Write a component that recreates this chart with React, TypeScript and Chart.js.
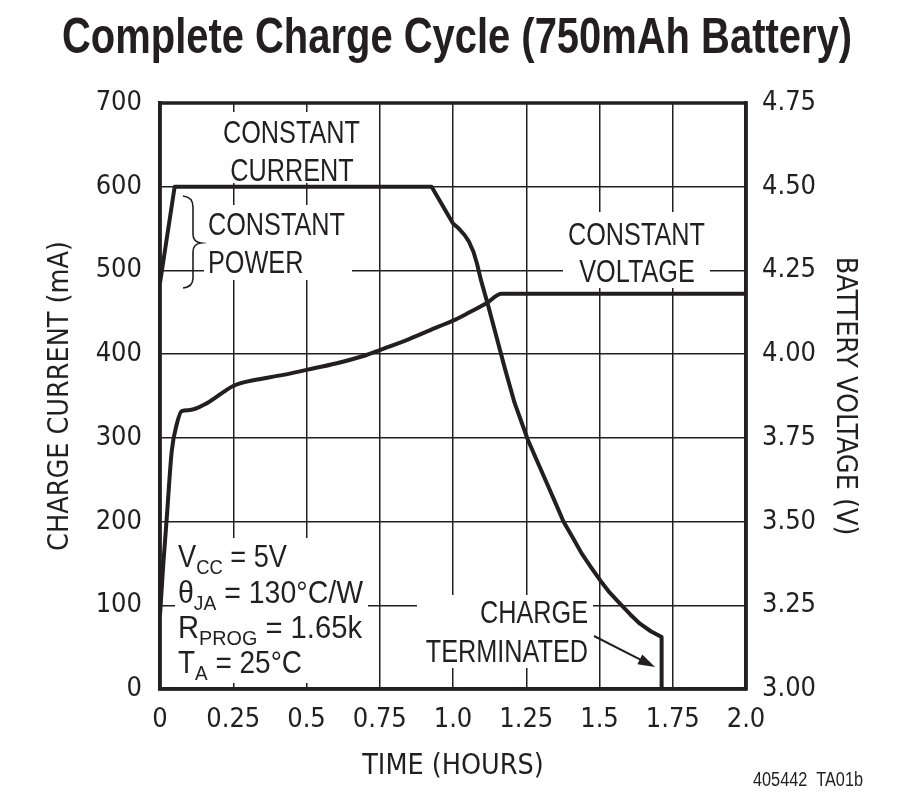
import React, { useEffect, useRef } from "react";
import { Chart, registerables } from "chart.js";

Chart.register(...registerables);

// ---------- data ----------
const X_TICK_LABELS = ["0", "0.25", "0.5", "0.75", "1.0", "1.25", "1.5", "1.75", "2.0"];
const CURRENT_TICK_LABELS = ["0", "100", "200", "300", "400", "500", "600", "700"];
const VOLTAGE_TICK_LABELS = ["3.00", "3.25", "3.50", "3.75", "4.00", "4.25", "4.50", "4.75"];

const CURRENT_TIME = [0, 0.05, 0.927, 1.0, 1.02, 1.04, 1.055, 1.07, 1.082, 1.095, 1.12, 1.149, 1.177, 1.21, 1.255, 1.29, 1.32, 1.35, 1.377, 1.41, 1.439, 1.47, 1.502, 1.535, 1.57, 1.605, 1.638, 1.675, 1.712, 1.712];
const CURRENT_MA = [485, 600, 600, 556, 550, 542, 534, 522, 508, 489, 458, 420, 383, 342, 298, 270, 246, 222, 200, 180, 162, 146, 130, 115, 102, 89, 78, 69, 62, 0];

const VOLTAGE_TIME = [0, 0.011, 0.023, 0.04, 0.057, 0.074, 0.102, 0.159, 0.25, 0.296, 0.421, 0.5, 0.6, 0.7, 0.75, 0.85, 0.95, 1.0, 1.05, 1.114, 1.166, 2.0];
const VOLTAGE_V = [3.22, 3.37, 3.51, 3.71, 3.79, 3.83, 3.833, 3.853, 3.905, 3.918, 3.938, 3.953, 3.972, 3.996, 4.012, 4.045, 4.082, 4.1, 4.122, 4.152, 4.18, 4.18];

const INK = "#231f20";
const BASE = '"Liberation Sans", Arial, sans-serif';

function hasFont(name: string): boolean {
  const c = document.createElement("canvas").getContext("2d") as CanvasRenderingContext2D;
  const s = "CONSTANT CURRENT 0123456789";
  c.font = "30px monospace";
  const a = c.measureText(s).width;
  c.font = `30px "${name}", monospace`;
  const b = c.measureText(s).width;
  return Math.abs(a - b) > 0.5;
}

function fitText(ctx: CanvasRenderingContext2D, text: string, x: number, y: number, size: number, width: number, align: CanvasTextAlign, bold = false) {
  ctx.save();
  ctx.font = `${bold ? "bold " : ""}${size}px ${BASE}`;
  const w = ctx.measureText(text).width;
  const k = width / w;
  ctx.translate(x, y);
  ctx.scale(k, 1);
  ctx.textAlign = align;
  ctx.textBaseline = "alphabetic";
  ctx.fillStyle = INK;
  ctx.fillText(text, 0, 0);
  ctx.restore();
}

function scaledText(ctx: CanvasRenderingContext2D, text: string, x: number, y: number, size: number, k: number, align: CanvasTextAlign) {
  ctx.save();
  ctx.font = `${size}px ${BASE}`;
  ctx.translate(x, y);
  ctx.scale(k, 1);
  ctx.textAlign = align;
  ctx.textBaseline = "alphabetic";
  ctx.fillStyle = INK;
  ctx.fillText(text, 0, 0);
  ctx.restore();
}

type Seg = [string, boolean];
function richLine(ctx: CanvasRenderingContext2D, segs: Seg[], x: number, y: number, width: number) {
  const MAIN = 31;
  const SUB = 21;
  let total = 0;
  const widths: number[] = [];
  ctx.save();
  for (const [t, sub] of segs) {
    ctx.font = `${sub ? SUB : MAIN}px ${BASE}`;
    const w = ctx.measureText(t).width;
    widths.push(w);
    total += w;
  }
  const k = width / total;
  ctx.translate(x, y);
  ctx.scale(k, 1);
  ctx.textAlign = "left";
  ctx.textBaseline = "alphabetic";
  ctx.fillStyle = INK;
  let cx = 0;
  segs.forEach(([t, sub], i) => {
    ctx.font = `${sub ? SUB : MAIN}px ${BASE}`;
    ctx.fillText(t, cx, sub ? 7 : 0);
    cx += widths[i];
  });
  ctx.restore();
}

const annotationPlugin = {
  id: "annotations",
  beforeDatasetsDraw(chart: any) {
    const ctx: CanvasRenderingContext2D = chart.ctx;
    ctx.save();
    ctx.fillStyle = "#ffffff";
    ctx.fillRect(218, 112, 147, 71);
    ctx.fillRect(204, 205, 148, 75);
    ctx.fillRect(563, 212, 147, 76);
    ctx.fillRect(417, 595, 176, 73);
    ctx.fillRect(175, 538, 193, 145);
    ctx.restore();

    ctx.save();
    ctx.font = `31px ${BASE}`;
    const k = 137 / ctx.measureText("CONSTANT").width;
    ctx.restore();

    scaledText(ctx, "CONSTANT", 291.5, 143, 31, k, "center");
    scaledText(ctx, "CURRENT", 292, 181, 31, k, "center");
    scaledText(ctx, "CONSTANT", 208, 235, 31, k, "left");
    scaledText(ctx, "POWER", 208, 273, 31, k, "left");
    scaledText(ctx, "CONSTANT", 636.5, 245, 31, k, "center");
    scaledText(ctx, "VOLTAGE", 637, 282, 31, k, "center");
    scaledText(ctx, "CHARGE", 588, 623, 31, k, "right");
    scaledText(ctx, "TERMINATED", 588, 662, 31, k, "right");

    richLine(ctx, [["V", false], ["CC", true], [" = 5V", false]], 178, 567, 109);
    richLine(ctx, [["θ", false], ["JA", true], [" = 130°C/W", false]], 178, 603, 185);
    richLine(ctx, [["R", false], ["PROG", true], [" = 1.65k", false]], 178, 638, 184);
    richLine(ctx, [["T", false], ["A", true], [" = 25°C", false]], 178, 673, 124);

    // brace
    ctx.save();
    ctx.strokeStyle = INK;
    ctx.lineWidth = 1.6;
    ctx.beginPath();
    ctx.moveTo(183, 196);
    ctx.quadraticCurveTo(193, 197, 193, 207);
    ctx.lineTo(193, 234);
    ctx.quadraticCurveTo(193, 242, 201, 243);
    ctx.quadraticCurveTo(193, 244, 193, 252);
    ctx.lineTo(193, 278);
    ctx.quadraticCurveTo(193, 287, 183, 288);
    ctx.stroke();
    ctx.restore();
  },
  afterDatasetsDraw(chart: any) {
    const ctx: CanvasRenderingContext2D = chart.ctx;
    const a = chart.chartArea;
    ctx.save();
    ctx.strokeStyle = INK;
    ctx.lineWidth = 3.5;
    ctx.strokeRect(a.left, a.top, a.right - a.left, a.bottom - a.top);

    // arrow
    const x1 = 594, y1 = 636, x2 = 655, y2 = 667;
    const ang = Math.atan2(y2 - y1, x2 - x1);
    ctx.lineWidth = 2;
    ctx.beginPath();
    ctx.moveTo(x1, y1);
    ctx.lineTo(x2 - 12 * Math.cos(ang), y2 - 12 * Math.sin(ang));
    ctx.stroke();
    ctx.fillStyle = INK;
    ctx.beginPath();
    ctx.moveTo(x2, y2);
    ctx.lineTo(x2 - 17 * Math.cos(ang) + 5.5 * Math.sin(ang), y2 - 17 * Math.sin(ang) - 5.5 * Math.cos(ang));
    ctx.lineTo(x2 - 17 * Math.cos(ang) - 5.5 * Math.sin(ang), y2 - 17 * Math.sin(ang) + 5.5 * Math.cos(ang));
    ctx.closePath();
    ctx.fill();
    ctx.restore();
  },
  afterDraw(chart: any) {
    const ctx: CanvasRenderingContext2D = chart.ctx;
    fitText(ctx, "Complete Charge Cycle (750mAh Battery)", 62, 53, 50, 790, "left", true);
    fitText(ctx, "405442  TA01b", 753, 786, 20, 110, "left");
  },
};

export default function App() {
  const ref = useRef<HTMLCanvasElement | null>(null);

  useEffect(() => {
    const canvas = ref.current;
    if (!canvas) return;

    const candidates = ["Liberation Sans Narrow", "Arial Narrow", "Nimbus Sans Narrow", "DejaVu Sans Condensed"];
    const narrow = candidates.find(hasFont);
    const family = narrow ? `"${narrow}", ${BASE}` : BASE;

    const m = document.createElement("canvas").getContext("2d") as CanvasRenderingContext2D;
    m.font = `100px ${family}`;
    const tickSize = Math.min(30, Math.max(27, (100 * 43) / m.measureText("700").width));
    const titleSize = Math.min(33, (100 * 310) / m.measureText("CHARGE CURRENT (mA)").width);
    const lh = titleSize * 1.2;

    const tickFont = { family, size: tickSize };
    const titleFont = { family, size: titleSize };
    const xPad = 720 - 689 - (tickSize * 1.2) / 2;

    const chart = new Chart(canvas, {
      type: "line",
      data: {
        datasets: [
          {
            label: "Charge current",
            data: CURRENT_TIME.map((t, i) => ({ x: t, y: CURRENT_MA[i] })),
            yAxisID: "y",
            borderColor: INK,
            borderWidth: 4,
            pointRadius: 0,
            tension: 0,
            fill: false,
            borderJoinStyle: "round",
          },
          {
            label: "Battery voltage",
            data: VOLTAGE_TIME.map((t, i) => ({ x: t, y: VOLTAGE_V[i] })),
            yAxisID: "y2",
            borderColor: INK,
            borderWidth: 4,
            pointRadius: 0,
            cubicInterpolationMode: "monotone",
            fill: false,
            borderJoinStyle: "round",
          },
        ],
      },
      options: {
        responsive: false,
        animation: false,
        devicePixelRatio: 1,
        layout: { padding: { top: 103, left: 0, right: 0, bottom: 0 } },
        plugins: {
          legend: { display: false },
          tooltip: { enabled: false },
          title: { display: false },
        },
        scales: {
          x: {
            type: "linear",
            position: "bottom",
            min: 0,
            max: 2,
            afterFit: (s: any) => {
              s.height = 106;
            },
            ticks: {
              stepSize: 0.25,
              autoSkip: false,
              maxRotation: 0,
              padding: xPad,
              color: INK,
              font: tickFont,
              callback: (_v: any, i: number) => X_TICK_LABELS[i],
            },
            grid: { color: INK, lineWidth: 1.5, drawTicks: false },
            border: { display: true, color: INK, width: 3.5 },
            title: {
              display: true,
              text: "TIME (HOURS)",
              color: INK,
              font: titleFont,
              padding: { top: 0, bottom: 795 - 767 - lh / 2 },
            },
          },
          y: {
            type: "linear",
            position: "left",
            min: 0,
            max: 700,
            afterFit: (s: any) => {
              s.width = 160;
            },
            ticks: {
              stepSize: 100,
              autoSkip: false,
              padding: 18,
              color: INK,
              font: tickFont,
              callback: (_v: any, i: number) => CURRENT_TICK_LABELS[i],
            },
            grid: { color: INK, lineWidth: 1.5, drawTicks: false },
            border: { display: true, color: INK, width: 3.5 },
            title: {
              display: true,
              text: "CHARGE CURRENT (mA)",
              color: INK,
              font: titleFont,
              padding: { top: 61 - lh / 2, bottom: 0 },
            },
          },
          y2: {
            type: "linear",
            position: "right",
            min: 3,
            max: 4.75,
            afterFit: (s: any) => {
              s.width = 154;
            },
            ticks: {
              stepSize: 0.25,
              autoSkip: false,
              padding: 16,
              color: INK,
              font: tickFont,
              callback: (_v: any, i: number) => VOLTAGE_TICK_LABELS[i],
            },
            grid: { drawOnChartArea: false, drawTicks: false },
            border: { display: true, color: INK, width: 3.5 },
            title: {
              display: true,
              text: "BATTERY VOLTAGE (V)",
              color: INK,
              font: titleFont,
              padding: { top: 56 - lh / 2, bottom: 0 },
            },
          },
        },
      } as any,
      plugins: [annotationPlugin],
    });

    return () => {
      chart.destroy();
    };
  }, []);

  return (
    <div style={{ position: "fixed", left: 0, top: 0, width: 900, height: 795, background: "#ffffff", overflow: "hidden" }}>
      <canvas ref={ref} width={900} height={795} style={{ width: 900, height: 795, display: "block" }} />
    </div>
  );
}
